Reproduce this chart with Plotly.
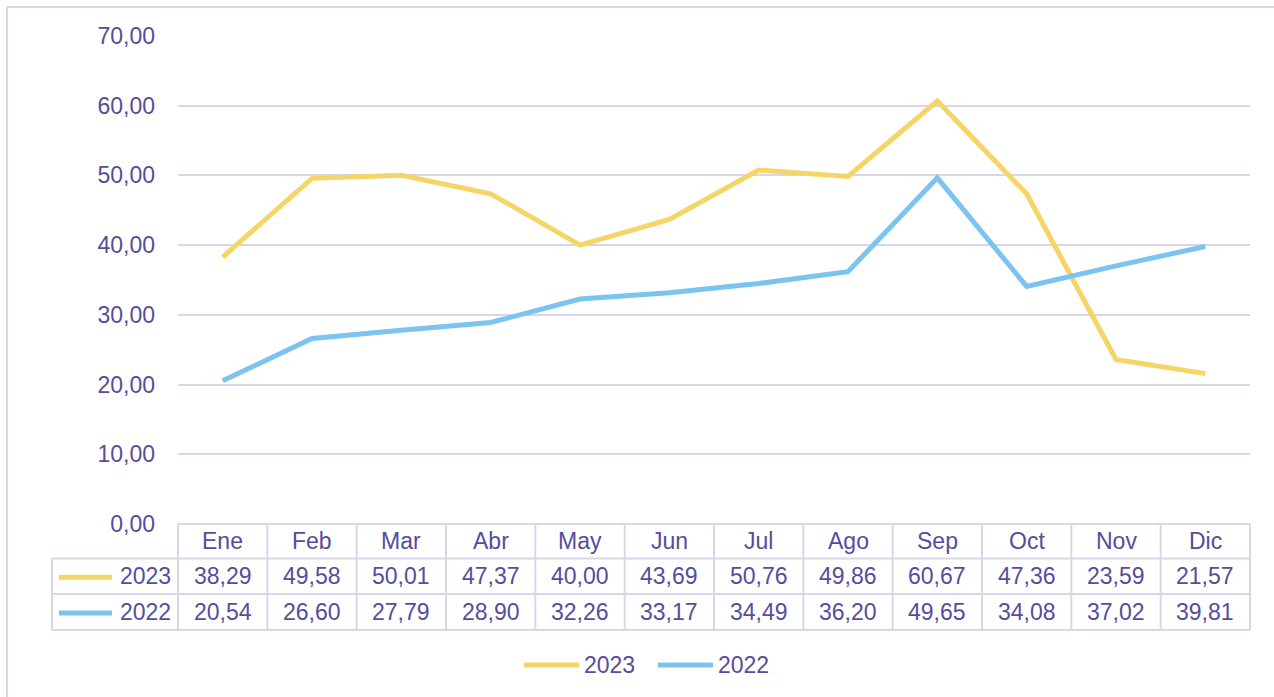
import plotly.graph_objects as go

months = ["Ene", "Feb", "Mar", "Abr", "May", "Jun", "Jul", "Ago", "Sep", "Oct", "Nov", "Dic"]
series_2023 = [38.29, 49.58, 50.01, 47.37, 40.00, 43.69, 50.76, 49.86, 60.67, 47.36, 23.59, 21.57]
series_2022 = [20.54, 26.60, 27.79, 28.90, 32.26, 33.17, 34.49, 36.20, 49.65, 34.08, 37.02, 39.81]
y_ticks = [0, 10, 20, 30, 40, 50, 60, 70]

W, H = 1274, 697
L, R, T, B = 178, 24, 36, 173
PW, PH = W - L - R, H - T - B

TXT = "#574c9c"
GRID = "#d9d6ec"
YEL = "#f5d565"
BLU = "#7cc4f0"
FONT = "Liberation Sans, Arial, sans-serif"
FS = 23


def fx(px):
    return (px - L) / PW


def fy(py):
    return (H - B - py) / PH


def fmt(v):
    return f"{v:.2f}".replace(".", ",")


xs = list(range(len(months)))
fig = go.Figure()
fig.add_trace(go.Scatter(x=xs, y=series_2023, mode="lines", name="2023",
                         line=dict(color=YEL, width=5)))
fig.add_trace(go.Scatter(x=xs, y=series_2022, mode="lines", name="2022",
                         line=dict(color=BLU, width=5)))

shapes = []
annotations = []
n = len(months)
r0, r1, r2, r3 = 524, 558.5, 594, 630
left_col = 52
for y in (r1, r2, r3):
    shapes.append(dict(type="line", xref="paper", yref="paper", x0=fx(left_col), x1=1,
                       y0=fy(y), y1=fy(y), line=dict(color=GRID, width=2)))
shapes.append(dict(type="line", xref="paper", yref="paper", x0=0, x1=1,
                   y0=0, y1=0, line=dict(color=GRID, width=2)))
for i in range(n + 1):
    shapes.append(dict(type="line", xref="paper", yref="paper", x0=i / n, x1=i / n,
                       y0=0, y1=fy(r3), line=dict(color=GRID, width=2)))
shapes.append(dict(type="line", xref="paper", yref="paper", x0=fx(left_col), x1=fx(left_col),
                   y0=fy(r1), y1=fy(r3), line=dict(color=GRID, width=2)))
# outer chart border (left and top)
shapes.append(dict(type="line", xref="paper", yref="paper", x0=fx(7), x1=fx(7),
                   y0=fy(7), y1=fy(H + 5), line=dict(color=GRID, width=2)))
shapes.append(dict(type="line", xref="paper", yref="paper", x0=fx(7), x1=fx(W + 5),
                   y0=fy(7), y1=fy(7), line=dict(color=GRID, width=2)))

tf = dict(size=FS, color=TXT, family=FONT)
for i, m in enumerate(months):
    for txt, ymid in [(m, (r0 + r1) / 2),
                      (fmt(series_2023[i]), (r1 + r2) / 2),
                      (fmt(series_2022[i]), (r2 + r3) / 2)]:
        annotations.append(dict(x=i, y=fy(ymid), xref="x", yref="paper", text=txt,
                                xanchor="center", yanchor="middle",
                                showarrow=False, font=tf))

# row headers with legend keys
for name, col, ymid in [("2023", YEL, (r1 + r2) / 2), ("2022", BLU, (r2 + r3) / 2)]:
    shapes.append(dict(type="line", xref="paper", yref="paper", x0=fx(59), x1=fx(112),
                       y0=fy(ymid + 1), y1=fy(ymid + 1), line=dict(color=col, width=5)))
    annotations.append(dict(x=fx(173), y=fy(ymid), xref="paper", yref="paper", text=name,
                            xanchor="right", yanchor="middle", showarrow=False, font=tf))

# bottom legend
for name, col, x0 in [("2023", YEL, 524), ("2022", BLU, 658)]:
    shapes.append(dict(type="line", xref="paper", yref="paper", x0=fx(x0), x1=fx(x0 + 55),
                       y0=fy(665), y1=fy(665), line=dict(color=col, width=5)))
    annotations.append(dict(x=fx(x0 + 58), y=fy(665), xref="paper", yref="paper", text=name,
                            xanchor="left", yanchor="middle", showarrow=False, font=tf))

fig.update_layout(
    width=W, height=H,
    margin=dict(l=L, r=R, t=T, b=B),
    paper_bgcolor="white", plot_bgcolor="white",
    showlegend=False,
    shapes=shapes, annotations=annotations,
    font=dict(family=FONT, color=TXT, size=FS),
)
fig.update_xaxes(range=[-0.5, n - 0.5], showgrid=False, zeroline=False,
                 showticklabels=False, showline=False, fixedrange=True)
fig.update_yaxes(range=[0, 70], tickvals=y_ticks, ticktext=[fmt(v) for v in y_ticks],
                 showgrid=True, gridcolor=GRID, gridwidth=2, zeroline=False,
                 showline=False, ticks="", ticklabelstandoff=22, tickfont=tf)
fig.write_html("out.html", config={"displayModeBar": False},
               post_script="document.body.style.margin='0';document.body.style.overflow='hidden';")
